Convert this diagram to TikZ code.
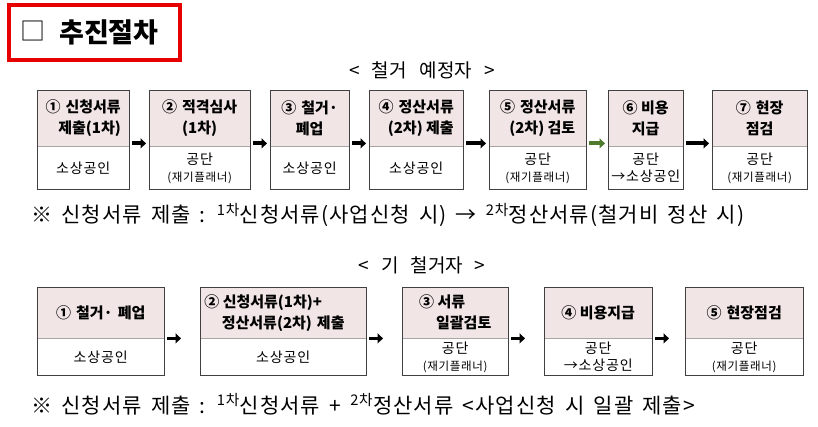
\documentclass[tikz,border=0pt]{standalone}
\usepackage{fontspec}
\setmainfont{Noto Sans CJK KR}
\newfontfamily\notefont{Noto Sans CJK KR}[LetterSpace=5,WordSpace=1.6]
\newfontfamily\cellfont{Noto Sans CJK KR}[LetterSpace=6]
\usetikzlibrary{arrows.meta}

\definecolor{cellpink}{HTML}{F2E5E5}
\definecolor{framegray}{HTML}{404040}
\definecolor{divgray}{HTML}{A6A6A6}
\definecolor{arrowgreen}{HTML}{507A2C}
\definecolor{titlered}{HTML}{E60000}

\newcommand\planner{{\fontsize{11.5}{13}\selectfont(재기플래너)}}
\newcommand\gap{\hspace{5pt}}

\tikzset{
  head/.style={fill=cellpink, inner sep=0pt, align=center, anchor=north west,
    font=\fontsize{15}{21}\selectfont\bfseries},
  body/.style={inner sep=0pt, align=center, anchor=north,
    font=\cellfont\fontsize{14}{17}\selectfont},
  frame/.style={draw=framegray, line width=0.8pt},
  divider/.style={draw=divgray, line width=0.8pt},
  arw/.style={line width=3.8pt, -{Triangle[length=5.5pt,width=10pt]}, shorten <=3pt},
  caption/.style={inner sep=0pt, font=\fontsize{19}{21}\selectfont},
  note/.style={inner sep=0pt, anchor=west, font=\notefont\fontsize{21}{23}\selectfont},
}

\begin{document}
\begin{tikzpicture}[x=1pt,y=-1pt]
  \useasboundingbox (0,0) rectangle (818,427);

  % title
  \draw[titlered, line width=4pt] (9,5) rectangle (180,60);
  \node[inner sep=0pt, font=\fontsize{25}{27}\selectfont] (box) at (33,31) {□};
  \node[inner sep=0pt, anchor=west, font=\fontsize{27}{29}\selectfont\bfseries] (title) at (59,32) {추진절차};

  % < 철거 예정자 >
  \node[caption] (cap1) at (422,70) {<\hspace{12pt}철거\hspace{13pt}예정자\hspace{12pt}>};

  \node[head, minimum width=92pt, minimum height=56pt, align=right] (t1) at (37,90) {①\gap 신청서류\\제출(1차)};
  \node[head, minimum width=101pt, minimum height=56pt] (t2) at (149,90) {②\gap 적격심사\\(1차)};
  \node[head, minimum width=79pt, minimum height=56pt] (t3) at (270,90) {③\gap 철거·\\폐업};
  \node[head, minimum width=94pt, minimum height=56pt, align=right] (t4) at (369,90) {④\gap 정산서류\\(2차) 제출};
  \node[head, minimum width=97pt, minimum height=56pt, align=right] (t5) at (489,90) {⑤\gap 정산서류\\(2차) 검토};
  \node[head, minimum width=75pt, minimum height=56pt] (t6) at (608,90) {⑥ 비용\\지급};
  \node[head, minimum width=95pt, minimum height=56pt] (t7) at (712,90) {⑦\gap 현장\\점검};

  \node[body, minimum width=92pt, minimum height=43pt] (b1) at (t1.south) {소상공인};
  \node[body, minimum width=101pt, minimum height=43pt] (b2) at (t2.south) {공단\\\planner};
  \node[body, minimum width=79pt, minimum height=43pt] (b3) at (t3.south) {소상공인};
  \node[body, minimum width=94pt, minimum height=43pt] (b4) at (t4.south) {소상공인};
  \node[body, minimum width=97pt, minimum height=43pt] (b5) at (t5.south) {공단\\\planner};
  \node[body, minimum width=75pt, minimum height=43pt] (b6) at (t6.south) {공단\\→소상공인};
  \node[body, minimum width=95pt, minimum height=43pt] (b7) at (t7.south) {공단\\\planner};

  \foreach \i in {1,...,7} {
    \draw[divider] (t\i.south west) -- (t\i.south east);
    \draw[frame] (t\i.north west) rectangle (b\i.south east);
  }

  \draw[arw, shorten >=3pt] ([yshift=3pt]t1.south east) -- ([yshift=3pt]t2.south west);
  \draw[arw, shorten >=3pt] ([yshift=3pt]t2.south east) -- ([yshift=3pt]t3.south west);
  \draw[arw, shorten >=3pt] ([yshift=3pt]t3.south east) -- ([yshift=3pt]t4.south west);
  \draw[arw, shorten >=3pt] ([yshift=3pt]t4.south east) -- ([yshift=3pt]t5.south west);
  \draw[arw, arrowgreen, shorten >=3pt] ([yshift=3pt]t5.south east) -- ([yshift=3pt]t6.south west);
  \draw[arw, shorten >=3pt] ([yshift=3pt]t6.south east) -- ([yshift=3pt]t7.south west);

  \node[note] (note1) at (31,215) {※ 신청서류 제출 : \textsuperscript{1차}신청서류(사업신청 시) → \textsuperscript{2차}정산서류(철거비 정산 시)};

  % < 기 철거자 >
  \node[caption] (cap2) at (422,265) {<\hspace{12pt}기\hspace{12pt}철거자\hspace{12pt}>};

  \node[head, minimum width=127pt, minimum height=51pt] (u1) at (37,287) {①\gap 철거·\gap 폐업};
  \node[head, minimum width=166pt, minimum height=51pt] (u2) at (200,287) {② 신청서류(1차)+\hspace{40pt}\mbox{}\\정산서류(2차)\gap 제출};
  \node[head, minimum width=106pt, minimum height=51pt, align=left] (u3) at (402,287) {③ 서류\\\hspace*{17pt}일괄검토};
  \node[head, minimum width=108pt, minimum height=51pt] (u4) at (544,287) {④ 비용지급};
  \node[head, minimum width=118pt, minimum height=51pt] (u5) at (685,287) {⑤\gap 현장점검};

  \node[body, minimum width=127pt, minimum height=37pt] (v1) at (u1.south) {소상공인};
  \node[body, minimum width=166pt, minimum height=37pt] (v2) at (u2.south) {소상공인};
  \node[body, minimum width=106pt, minimum height=37pt] (v3) at (u3.south) {공단\\\planner};
  \node[body, minimum width=108pt, minimum height=37pt] (v4) at (u4.south) {공단\\→소상공인};
  \node[body, minimum width=118pt, minimum height=37pt] (v5) at (u5.south) {공단\\\planner};

  \foreach \i in {1,...,5} {
    \draw[divider] (u\i.south west) -- (u\i.south east);
    \draw[frame] (u\i.north west) rectangle (v\i.south east);
  }

  \draw[arw, shorten >=19pt] (u1.south east) -- (u2.south west);
  \draw[arw, shorten >=19pt] (u2.south east) -- (u3.south west);
  \draw[arw, shorten >=19pt] (u3.south east) -- (u4.south west);
  \draw[arw, shorten >=16pt] (u4.south east) -- (u5.south west);

  \node[note] (note2) at (31,404) {※ 신청서류 제출 : \textsuperscript{1차}신청서류 + \textsuperscript{2차}정산서류 <사업신청 시 일괄 제출>};
\end{tikzpicture}
\end{document}
